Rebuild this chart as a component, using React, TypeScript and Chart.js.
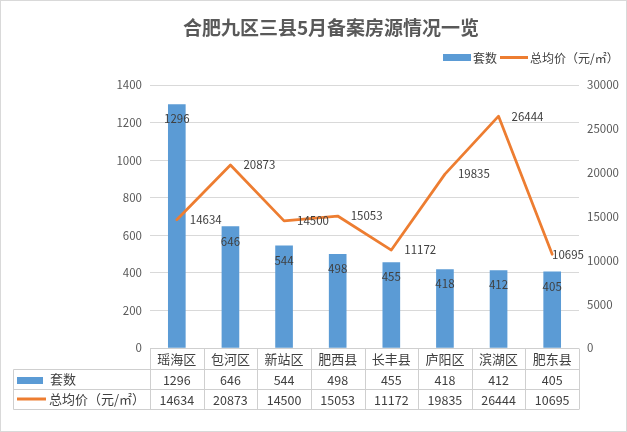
import React, { useEffect, useRef } from "react";
import { Chart, registerables } from "chart.js";

Chart.register(...registerables);

const TITLE = "合肥九区三县5月备案房源情况一览";
const categories = ["瑶海区", "包河区", "新站区", "肥西县", "长丰县", "庐阳区", "滨湖区", "肥东县"];
const countName = "套数";
const priceName = "总均价（元/㎡）";
const counts = [1296, 646, 544, 498, 455, 418, 412, 405];
const prices = [14634, 20873, 14500, 15053, 11172, 19835, 26444, 10695];
const leftAxis = [0, 1400, 200];
const rightAxis = [0, 30000, 5000];

const BAR = "#5B9BD5";
const LINE = "#ED7D31";
const FONT = "'Noto Sans CJK SC', 'Noto Sans', sans-serif";
const TEXT = "#404040";
const AXIS_TEXT = "#595959";
const GRID = "#d9d9d9";
const TABLE_LINE = "#cfcfcf";

const W = 627;
const H = 432;

const decorPlugin = {
  id: "decor",
  afterDraw(chart: any) {
    const ctx: CanvasRenderingContext2D = chart.ctx;
    const { left, right, bottom } = chart.chartArea;
    ctx.save();

    // outer border
    ctx.strokeStyle = GRID;
    ctx.lineWidth = 1;
    ctx.strokeRect(0.5, 0.5, W - 1, H - 1);

    // title
    ctx.fillStyle = AXIS_TEXT;
    ctx.font = `bold 19px ${FONT}`;
    ctx.textAlign = "center";
    ctx.textBaseline = "middle";
    ctx.fillText(TITLE, 331, 28);

    // legend
    ctx.font = `12px ${FONT}`;
    ctx.textAlign = "left";
    ctx.fillStyle = BAR;
    ctx.fillRect(443, 54, 28, 7);
    ctx.fillStyle = TEXT;
    ctx.fillText(countName, 473, 58);
    ctx.strokeStyle = LINE;
    ctx.lineWidth = 3;
    ctx.beginPath();
    ctx.moveTo(500, 57.5);
    ctx.lineTo(528, 57.5);
    ctx.stroke();
    ctx.fillStyle = TEXT;
    ctx.fillText(priceName, 530, 58);

    // data table
    const n = categories.length;
    const cw = (right - left) / n;
    const y0 = Math.round(bottom) + 0.5;
    const y1 = y0 + 21;
    const y2 = y1 + 20;
    const y3 = y2 + 20;
    const tl = 13.5;
    ctx.strokeStyle = TABLE_LINE;
    ctx.lineWidth = 1;
    ctx.beginPath();
    ctx.moveTo(left, y0);
    ctx.lineTo(right, y0);
    [y1, y2, y3].forEach((yy) => {
      ctx.moveTo(tl, yy);
      ctx.lineTo(right, yy);
    });
    ctx.moveTo(tl, y1);
    ctx.lineTo(tl, y3);
    for (let i = 0; i <= n; i++) {
      const xx = Math.round(left + i * cw) + 0.5;
      ctx.moveTo(xx, y0);
      ctx.lineTo(xx, y3);
    }
    ctx.stroke();

    ctx.fillStyle = TEXT;
    ctx.textAlign = "center";
    ctx.textBaseline = "middle";
    const xs = chart.scales.x;
    categories.forEach((c, i) => {
      const cx = xs.getPixelForValue(i);
      ctx.font = `13px ${FONT}`;
      ctx.fillText(c, cx, (y0 + y1) / 2);
      ctx.font = `12.5px ${FONT}`;
      ctx.fillText(String(counts[i]), cx, (y1 + y2) / 2 + 0.5);
      ctx.fillText(String(prices[i]), cx, (y2 + y3) / 2 + 0.5);
    });

    // row headers
    ctx.textAlign = "left";
    ctx.font = `13px ${FONT}`;
    ctx.fillStyle = BAR;
    ctx.fillRect(17, 377, 26, 7);
    ctx.fillStyle = TEXT;
    ctx.fillText(countName, 50, (y1 + y2) / 2);
    ctx.strokeStyle = LINE;
    ctx.lineWidth = 3;
    ctx.beginPath();
    ctx.moveTo(17, 399);
    ctx.lineTo(46, 399);
    ctx.stroke();
    ctx.fillStyle = TEXT;
    ctx.fillText(priceName, 49, (y2 + y3) / 2);

    ctx.restore();
  },
};

const labelPlugin = {
  id: "labels",
  afterDatasetsDraw(chart: any) {
    const ctx: CanvasRenderingContext2D = chart.ctx;
    const { right } = chart.chartArea;
    ctx.save();
    ctx.font = `11.5px ${FONT}`;
    ctx.fillStyle = TEXT;
    ctx.textBaseline = "middle";
    const barMeta = chart.getDatasetMeta(0);
    ctx.textAlign = "center";
    barMeta.data.forEach((el: any, i: number) => {
      ctx.fillText(String(counts[i]), el.x, el.y + 14.5);
    });
    const lineMeta = chart.getDatasetMeta(1);
    ctx.textAlign = "left";
    lineMeta.data.forEach((el: any, i: number) => {
      const t = String(prices[i]);
      const tw = ctx.measureText(t).width;
      const x = Math.min(el.x + 13, right + 5 - tw);
      ctx.fillText(t, x, el.y);
    });
    ctx.restore();
  },
};

const plain = (v: any) => String(v);

export default function App() {
  const ref = useRef<HTMLCanvasElement | null>(null);
  useEffect(() => {
    if (!ref.current) return;
    const chart = new Chart(ref.current, {
      type: "bar",
      data: {
        labels: categories,
        datasets: [
          {
            type: "bar",
            label: countName,
            data: counts,
            backgroundColor: BAR,
            barThickness: 17,
            yAxisID: "y",
            order: 1,
          },
          {
            type: "line",
            label: priceName,
            data: prices,
            borderColor: LINE,
            backgroundColor: LINE,
            borderWidth: 2.75,
            pointRadius: 0,
            tension: 0,
            borderJoinStyle: "round",
            borderCapStyle: "round",
            yAxisID: "y1",
            order: 0,
          } as any,
        ],
      },
      options: {
        responsive: false,
        animation: false,
        events: [],
        layout: { padding: { top: 85, bottom: H - 348, left: 0, right: 0 } },
        plugins: {
          legend: { display: false },
          title: { display: false },
          tooltip: { enabled: false },
        },
        scales: {
          x: { display: false },
          y: {
            position: "left",
            min: leftAxis[0],
            max: leftAxis[1],
            ticks: {
              stepSize: leftAxis[2],
              padding: 8,
              color: AXIS_TEXT,
              font: { family: FONT, size: 11.5 },
              callback: plain,
            },
            grid: { color: GRID, drawTicks: false },
            border: { display: false },
            afterFit(scale: any) {
              scale.width = 150;
            },
          },
          y1: {
            position: "right",
            min: rightAxis[0],
            max: rightAxis[1],
            ticks: {
              stepSize: rightAxis[2],
              padding: 8,
              color: AXIS_TEXT,
              font: { family: FONT, size: 11.5 },
              callback: plain,
            },
            grid: { display: false, drawTicks: false },
            border: { display: false },
            afterFit(scale: any) {
              scale.width = W - 579;
            },
          },
        },
      } as any,
      plugins: [labelPlugin, decorPlugin],
    });
    return () => chart.destroy();
  }, []);
  return (
    <div style={{ position: "absolute", left: 0, top: 0, width: W, height: H, background: "#fff" }}>
      <canvas ref={ref} width={W} height={H} style={{ display: "block" }} />
    </div>
  );
}
